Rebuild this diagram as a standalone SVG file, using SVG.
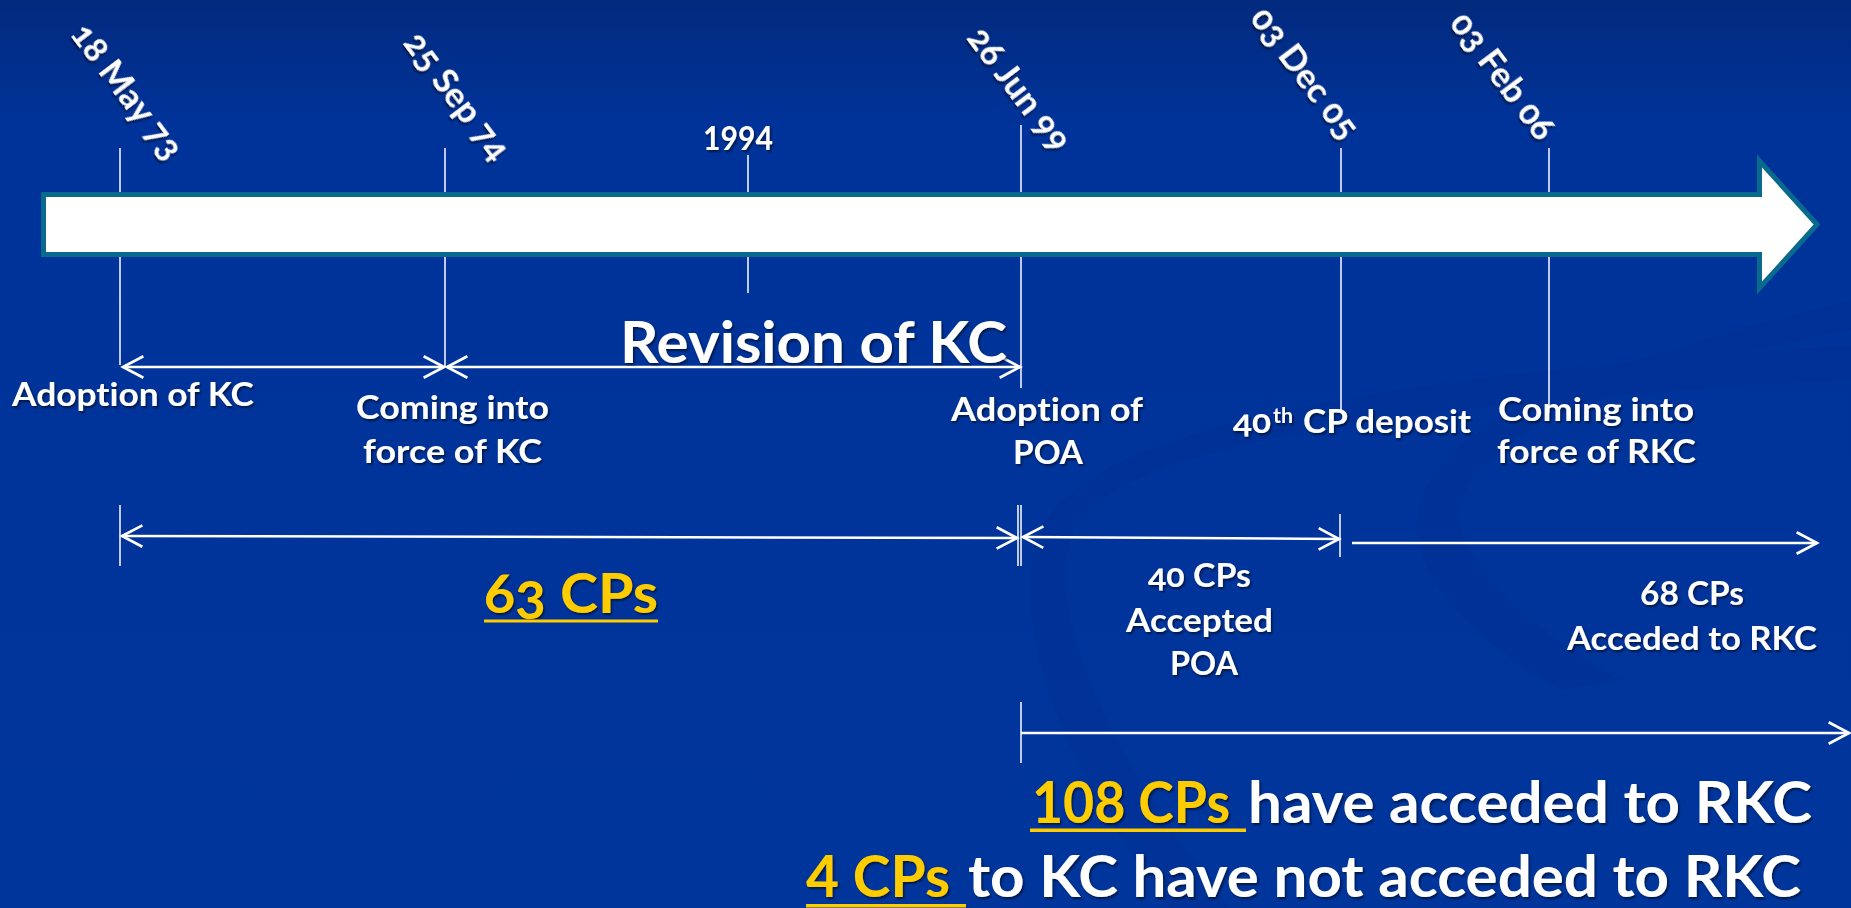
<svg xmlns="http://www.w3.org/2000/svg" width="1851" height="908" viewBox="0 0 1851 908">
<defs>
<linearGradient id="bg" x1="0" y1="0" x2="0" y2="1">
<stop offset="0" stop-color="#022a7e"/>
<stop offset="0.14" stop-color="#00339a"/>
<stop offset="1" stop-color="#00359c"/>
</linearGradient>
<filter id="sh" x="-10%" y="-20%" width="130%" height="150%">
<feDropShadow dx="1.5" dy="2" stdDeviation="1" flood-color="#000" flood-opacity="0.55"/>
</filter>
<marker id="ah" markerUnits="userSpaceOnUse" markerWidth="30" markerHeight="30" viewBox="-24 -14 28 28" refX="0" refY="0" orient="auto-start-reverse">
<path d="M -19 -10 L 0 0 L -19 10" fill="none" stroke="#fff" stroke-width="2.5"/>
</marker>
</defs>
<style>
text{font-family:Lato,"Open Sans","DejaVu Sans",sans-serif;font-weight:700;fill:#fff;filter:url(#sh);font-variant-ligatures:none}
.d{font-size:35px;font-variant-numeric:oldstyle-nums}
.l{font-size:33px}
.big{font-size:57px}
.g{fill:#ffcc00}
.tick{stroke:#fff;stroke-width:1.5}
.conn{stroke:#fff;stroke-width:2.5;fill:none}
.ul{fill:#ffcc00}
</style>
<rect x="0" y="0" width="1851" height="908" fill="url(#bg)"/>
<g id="background-swoosh" fill="#002a88" opacity="0.22">
<path d="M1851 380 C1500 400 1100 430 1070 540 C1045 640 1140 800 1230 908 L1170 908 C1090 800 1010 660 1035 545 C1070 410 1480 370 1851 345 Z"/>
<path d="M1851 330 C1700 360 1470 420 1460 510 C1455 560 1520 620 1620 680 L1560 690 C1460 630 1405 570 1420 505 C1440 410 1650 350 1851 300 Z"/>
</g>
<g id="ticks">
<line class="tick" x1="120" y1="148" x2="120" y2="365"/>
<line class="tick" x1="445" y1="148" x2="445" y2="367"/>
<line class="tick" x1="748" y1="155" x2="748" y2="293"/>
<line class="tick" x1="1021" y1="125" x2="1021" y2="388"/>
<line class="tick" x1="1341" y1="148" x2="1341" y2="411"/>
<line class="tick" x1="1549" y1="148" x2="1549" y2="413"/>
<line class="tick" x1="120" y1="505" x2="120" y2="566"/>
<line class="tick" x1="1018" y1="505" x2="1018" y2="566"/>
<line class="tick" x1="1021" y1="505" x2="1021" y2="566"/>
<line class="tick" x1="1340" y1="514" x2="1340" y2="557"/>
<line class="tick" x1="1021" y1="702" x2="1021" y2="763"/>
</g>
<g id="timeline">
<path d="M43.5 194.5 L1759.5 194.5 L1759.5 161 L1817 224.5 L1759.5 288 L1759.5 254.5 L43.5 254.5 Z" fill="#fff" stroke="#0a6a8e" stroke-width="5"/>
</g>
<g id="connectors">
<line class="conn" x1="123" y1="367" x2="444" y2="367" marker-start="url(#ah)" marker-end="url(#ah)"/>
<line class="conn" x1="447" y1="367" x2="1020" y2="367" marker-start="url(#ah)" marker-end="url(#ah)"/>
<line class="conn" x1="122" y1="536" x2="1017" y2="538" marker-start="url(#ah)" marker-end="url(#ah)"/>
<line class="conn" x1="1023" y1="537" x2="1339" y2="539" marker-start="url(#ah)" marker-end="url(#ah)"/>
<line class="conn" x1="1352" y1="543" x2="1817" y2="543" marker-end="url(#ah)"/>
<line class="conn" x1="1021" y1="733" x2="1849" y2="733" marker-end="url(#ah)"/>
</g>
<g id="date-18may73"><text class="d" transform="translate(127 91) rotate(53)" x="0" y="12" text-anchor="middle">18 May 73</text></g>
<g id="date-25sep74"><text class="d" transform="translate(457 96) rotate(53)" x="0" y="12" text-anchor="middle">25 Sep 74</text></g>
<g id="date-1994"><text class="d" x="703" y="150" textLength="70" lengthAdjust="spacingAndGlyphs" style="font-size:33px;font-variant-numeric:normal">1994</text></g>
<g id="date-26jun99"><text class="d" transform="translate(1019 89) rotate(53)" x="0" y="12" text-anchor="middle">26 Jun 99</text></g>
<g id="date-03dec05"><text class="d" transform="translate(1305 73) rotate(53)" x="0" y="12" text-anchor="middle">03 Dec 05</text></g>
<g id="date-03feb06"><text class="d" transform="translate(1503 76) rotate(53)" x="0" y="12" text-anchor="middle">03 Feb 06</text></g>
<g id="revision-of-kc"><text class="big" x="620" y="363" textLength="387" lengthAdjust="spacingAndGlyphs">Revision of KC</text></g>
<g id="adoption-kc"><text class="l" x="12" y="406" textLength="242" lengthAdjust="spacingAndGlyphs">Adoption of KC</text></g>
<g id="coming-into-force-kc">
<text class="l" x="356" y="419" textLength="193" lengthAdjust="spacingAndGlyphs">Coming into</text>
<text class="l" x="363" y="463" textLength="179" lengthAdjust="spacingAndGlyphs">force of KC</text>
</g>
<g id="adoption-poa">
<text class="l" x="951" y="421" textLength="192" lengthAdjust="spacingAndGlyphs">Adoption of</text>
<text class="l" x="1013" y="464" textLength="70" lengthAdjust="spacingAndGlyphs">POA</text>
</g>
<g id="cp40-deposit">
<text class="l" x="1233" y="433" textLength="38" lengthAdjust="spacingAndGlyphs" style="font-variant-numeric:oldstyle-nums">40</text>
<text x="1273" y="423" style="font-size:20px" textLength="20" lengthAdjust="spacingAndGlyphs">th</text>
<text class="l" x="1303" y="433" textLength="168" lengthAdjust="spacingAndGlyphs">CP deposit</text>
</g>
<g id="coming-into-force-rkc">
<text class="l" x="1498" y="421" textLength="196" lengthAdjust="spacingAndGlyphs">Coming into</text>
<text class="l" x="1497" y="463" textLength="199" lengthAdjust="spacingAndGlyphs">force of RKC</text>
</g>
<g id="cps-63">
<text class="g" x="484" y="613" style="font-size:55px;font-variant-numeric:oldstyle-nums" textLength="174" lengthAdjust="spacingAndGlyphs">63 CPs</text>
<rect class="ul" x="484" y="619.5" width="174" height="3"/>
</g>
<g id="cps-40-accepted">
<text class="l" x="1148" y="587" textLength="103" lengthAdjust="spacingAndGlyphs" style="font-variant-numeric:oldstyle-nums">40 CPs</text>
<text class="l" x="1126" y="632" textLength="147" lengthAdjust="spacingAndGlyphs">Accepted</text>
<text class="l" x="1170" y="675" textLength="68" lengthAdjust="spacingAndGlyphs">POA</text>
</g>
<g id="cps-68-acceded">
<text class="l" x="1640" y="605" textLength="104" lengthAdjust="spacingAndGlyphs">68 CPs</text>
<text class="l" x="1567" y="650" textLength="250" lengthAdjust="spacingAndGlyphs">Acceded to RKC</text>
</g>
<g id="summary-108">
<text class="big g" x="1032" y="823" textLength="198" lengthAdjust="spacingAndGlyphs">108 CPs</text>
<rect class="ul" x="1030" y="828.5" width="216" height="3.5"/>
<text class="big" x="1248" y="823" textLength="564" lengthAdjust="spacingAndGlyphs">have acceded to RKC</text>
</g>
<g id="summary-4">
<text class="big g" x="806" y="897" textLength="144" lengthAdjust="spacingAndGlyphs">4 CPs</text>
<rect class="ul" x="806" y="904" width="160" height="3.5"/>
<text class="big" x="968" y="897" textLength="833" lengthAdjust="spacingAndGlyphs">to KC have not acceded to RKC</text>
</g>
</svg>
